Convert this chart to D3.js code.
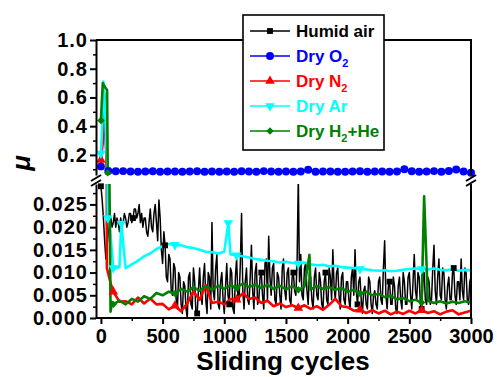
<!DOCTYPE html>
<html>
<head>
<meta charset="utf-8">
<script src="https://cdn.jsdelivr.net/npm/d3@7"></script>
<style>
  body { margin: 0; background: #fff; }
  text { font-family: "Liberation Sans", Arial, sans-serif; font-weight: bold; }
</style>
</head>
<body>
<svg id="chart" width="497" height="377"></svg>
<script>
//////////////////////////////////////////////////////////////////////////////// DATA
// Humid air: one value every 10 cycles, from cycle 0
var humidStep = 10;
var humidMu = [
  0.029, 0.026, 0.022, 0.017, 0.013, 0.016, 0.019, 0.021, 0.022, 0.020, 0.021, 0.023, 0.020, 0.022, 0.021, 0.019, 0.022, 0.020, 0.021, 0.023,
  0.022, 0.020, 0.021, 0.023, 0.023, 0.021, 0.022, 0.024, 0.024, 0.022, 0.023, 0.025, 0.021, 0.023, 0.020, 0.022, 0.022, 0.019, 0.018, 0.021,
  0.024, 0.020, 0.019, 0.023, 0.025, 0.021, 0.017, 0.026, 0.022, 0.015, 0.012, 0.019, 0.016, 0.009, 0.008, 0.014, 0.013, 0.006, 0.005, 0.012,
  0.011, 0.004, 0.002, 0.010, 0.009, 0.003, 0.001, 0.008, 0.007, 0.002, 0.000, 0.009, 0.010, 0.003, 0.002, 0.011, 0.008, 0.001, 0.001, 0.006,
  0.011, 0.005, 0.003, 0.009, 0.012, 0.004, 0.001, 0.010, 0.009, 0.002, 0.021, 0.006, 0.004, 0.011, 0.014, 0.003, 0.002, 0.008, 0.010, 0.004,
  0.001, 0.007, 0.012, 0.005, 0.003, 0.011, 0.010, 0.002, 0.001, 0.009, 0.013, 0.005, 0.004, 0.012, 0.023, 0.006, 0.002, 0.008, 0.011, 0.004,
  0.003, 0.009, 0.016, 0.006, 0.002, 0.010, 0.012, 0.003, 0.004, 0.009, 0.010, 0.005, 0.002, 0.012, 0.013, 0.004, 0.018, 0.009, 0.005, 0.011,
  0.012, 0.004, 0.003, 0.010, 0.009, 0.005, 0.002, 0.011, 0.013, 0.006, 0.004, 0.010, 0.011, 0.004, 0.003, 0.009, 0.010, 0.006, 0.005, 0.012,
  0.031, 0.008, 0.014, 0.005, 0.004, 0.011, 0.012, 0.006, 0.003, 0.010, 0.009, 0.004, 0.002, 0.009, 0.011, 0.005, 0.004, 0.010, 0.008, 0.003,
  0.002, 0.008, 0.010, 0.004, 0.003, 0.011, 0.009, 0.004, 0.015, 0.007, 0.004, 0.010, 0.011, 0.005, 0.002, 0.009, 0.010, 0.004, 0.003, 0.008,
  0.008, 0.004, 0.002, 0.009, 0.011, 0.005, 0.015, 0.006, 0.003, 0.008, 0.009, 0.004, 0.001, 0.006, 0.007, 0.003, 0.002, 0.009, 0.008, 0.003,
  0.001, 0.005, 0.006, 0.003, 0.002, 0.008, 0.009, 0.004, 0.003, 0.011, 0.017, 0.005, 0.002, 0.007, 0.008, 0.003, 0.003, 0.009, 0.007, 0.002,
  0.001, 0.007, 0.009, 0.004, 0.002, 0.010, 0.008, 0.003, 0.003, 0.009, 0.010, 0.005, 0.002, 0.008, 0.014, 0.006, 0.004, 0.010, 0.009, 0.003,
  0.002, 0.008, 0.010, 0.004, 0.003, 0.009, 0.008, 0.003, 0.004, 0.011, 0.016, 0.006, 0.003, 0.009, 0.013, 0.005, 0.004, 0.011, 0.010, 0.004,
  0.002, 0.007, 0.009, 0.004, 0.004, 0.010, 0.011, 0.005, 0.003, 0.008, 0.008, 0.004, 0.013, 0.006, 0.004, 0.011, 0.010, 0.004, 0.003, 0.008,
  0.009
];

// Dry O2: start-up points, then one value every 60 cycles from cycle 60
var o2Head = [[0, 0.12], [12, 0.30], [25, 0.55], [40, 0.25], [50, 0.10]];
var o2Step = 60;
var o2Mu = [
  0.088, 0.086, 0.087, 0.084, 0.083, 0.085, 0.086, 0.083, 0.084, 0.085,
  0.082, 0.084, 0.086, 0.083, 0.084, 0.082, 0.085, 0.083, 0.086, 0.084,
  0.083, 0.087, 0.084, 0.083, 0.085, 0.082, 0.084, 0.096, 0.083, 0.084,
  0.085, 0.083, 0.082, 0.084, 0.086, 0.083, 0.084, 0.085, 0.083, 0.084,
  0.100, 0.086, 0.082, 0.085, 0.087, 0.083, 0.088, 0.098, 0.084, 0.076
];

// Dry N2, Dry Ar, Dry H2+He: start-up points, then one value every 50 cycles from cycle 100
var tailStart = 100;
var tailStep = 50;

var n2Head = [[0, 0.165], [14, 0.28], [26, 0.63], [38, 0.40], [48, 0.011], [62, 0.0095], [80, 0.0075]];
var n2Mu = [
  0.0058, 0.0036, 0.0037, 0.0030, 0.0045, 0.0032, 0.0043, 0.0030, 0.0031, 0.0019,
  0.0027, 0.0015, 0.0032, 0.0058, 0.0040, 0.0072, 0.0033, 0.0036, 0.0030, 0.0042,
  0.0040, 0.0055, 0.0042, 0.0045, 0.0033, 0.0038, 0.0026, 0.0032, 0.0024, 0.0028,
  0.0022, 0.0028, 0.0020, 0.0026, 0.0018, 0.0029, 0.0042, 0.0026, 0.0024, 0.0016,
  0.0018, 0.0011, 0.0017, 0.0010, 0.0016, 0.0008, 0.0014, 0.0009, 0.0016, 0.0010,
  0.0017, 0.0011, 0.0015, 0.0008, 0.0014, 0.0017, 0.0008, 0.0012, 0.0016
];

var arHead = [[0, 0.21], [10, 0.40], [20, 0.71], [32, 0.55], [45, 0.25], [55, 0.022], [70, 0.021], [85, 0.016]];
var arSpikes = [[165, 0.0208], [1033, 0.0209]];
var arMu = [
  0.0110, 0.0112, 0.0110, 0.0118, 0.0126, 0.0136, 0.0142, 0.0152, 0.0158, 0.0163,
  0.0161, 0.0160, 0.0156, 0.0154, 0.0150, 0.0146, 0.0145, 0.0142, 0.0146, 0.0140,
  0.0138, 0.0136, 0.0133, 0.0130, 0.0128, 0.0126, 0.0125, 0.0122, 0.0124, 0.0121,
  0.0120, 0.0122, 0.0118, 0.0116, 0.0117, 0.0114, 0.0115, 0.0112, 0.0111, 0.0110,
  0.0108, 0.0107, 0.0105, 0.0104, 0.0105, 0.0103, 0.0104, 0.0106, 0.0108, 0.0109,
  0.0108, 0.0107, 0.0109, 0.0106, 0.0105, 0.0107, 0.0104, 0.0106, 0.0105
];

var h2HeHead = [[0, 0.44], [15, 0.70], [35, 0.67], [50, 0.65], [55, 0.075], [78, 0.0014], [90, 0.0035]];
var h2HeSpikes = [[1690, 0.0139], [2620, 0.0268]];
var h2HeMu = [
  0.0030, 0.0038, 0.0030, 0.0042, 0.0036, 0.0048, 0.0042, 0.0055, 0.0050, 0.0058,
  0.0054, 0.0064, 0.0058, 0.0068, 0.0060, 0.0070, 0.0062, 0.0071, 0.0064, 0.0072,
  0.0066, 0.0076, 0.0068, 0.0074, 0.0066, 0.0073, 0.0064, 0.0071, 0.0063, 0.0070,
  0.0062, 0.0069, 0.0063, 0.0070, 0.0064, 0.0068, 0.0062, 0.0066, 0.0058, 0.0062,
  0.0054, 0.0058, 0.0050, 0.0053, 0.0046, 0.0049, 0.0041, 0.0044, 0.0037, 0.0040,
  0.0034, 0.0038, 0.0033, 0.0037, 0.0032, 0.0036, 0.0033, 0.0037, 0.0034
];

// axis ticks
var xTicks = [0, 500, 1000, 1500, 2000, 2500, 3000];
var xMinorTicks = [250, 750, 1250, 1750, 2250, 2750];
var topTicks = [0.2, 0.4, 0.6, 0.8, 1.0];
var topMinorTicks = [0.1, 0.3, 0.5, 0.7, 0.9];
var botTicks = [0, 0.005, 0.010, 0.015, 0.020, 0.025];
var botMinorTicks = [0.0025, 0.0075, 0.0125, 0.0175, 0.0225, 0.0275];

//////////////////////////////////////////////////////////////////////////////// SERIES
var toPoints = function (head, start, step, values, extra) {
  var pts = head.concat(values.map(function (v, i) { return [start + i * step, v]; }));
  if (extra) pts = pts.concat(extra);
  pts.sort(function (a, b) { return a[0] - b[0]; });
  return pts;
};

var humid = toPoints([], 0, humidStep, humidMu);
var o2 = toPoints(o2Head, o2Step, o2Step, o2Mu);
var n2 = toPoints(n2Head, tailStart, tailStep, n2Mu);
var ar = toPoints(arHead, tailStart, tailStep, arMu, arSpikes);
var h2He = toPoints(h2HeHead, tailStart, tailStep, h2HeMu, h2HeSpikes);

// markers: first point plus every n-th point of the regular part
var every = function (head, start, step, values, n) {
  var m = head.length ? [head[0]] : [];
  values.forEach(function (v, i) { if (i % n === 0) m.push([start + i * step, v]); });
  return m;
};

var series = [
  { label: [["Humid air"]], color: "#000000", shape: "square", width: 1.5, pts: humid,
    marks: every([], 0, humidStep, humidMu, 26) },
  { label: [["Dry O"], ["2", 1]], color: "#0000ff", shape: "circle", width: 2, pts: o2,
    marks: o2Head.slice(0, 1).concat(o2Mu.map(function (v, i) { return [o2Step + i * o2Step, v]; })) },
  { label: [["Dry N"], ["2", 1]], color: "#ff0000", shape: "triangle", width: 2.6, pts: n2,
    marks: every(n2Head, tailStart, tailStep, n2Mu, 10) },
  { label: [["Dry Ar"]], color: "#00ffff", shape: "triangleDown", width: 2.6, pts: ar,
    marks: every(arHead, tailStart, tailStep, arMu, 10).concat([[55, 0.022], [165, 0.0208], [1033, 0.0209]]) },
  { label: [["Dry H"], ["2", 1], ["+He", -1]], color: "#008000", shape: "diamond", width: 2.6, pts: h2He,
    marks: every(h2HeHead, tailStart, tailStep, h2HeMu, 10).concat([[55, 0.075]]) }
];

//////////////////////////////////////////////////////////////////////////////// SCALES
var left = 96, right = 471;
var x = d3.scaleLinear().domain([-40, 3000]).range([left, right]);
var yTop = d3.scaleLinear().domain([0.06, 1.0]).range([175, 40]);
var yBot = d3.scaleLinear().domain([0, 0.0295]).range([318, 184]);

var svg = d3.select("#chart");
var defs = svg.append("defs");

var shapeType = { square: d3.symbolSquare, circle: d3.symbolCircle, triangle: d3.symbolTriangle,
                  triangleDown: d3.symbolTriangle, diamond: d3.symbolSquare };
var shapeSize = { square: 34, circle: 50, triangle: 40, triangleDown: 40, diamond: 28 };
var shapeRot = { square: 0, circle: 0, triangle: 0, triangleDown: 180, diamond: 45 };

var drawMarker = function (g, s, px, py) {
  g.append("path")
    .attr("d", d3.symbol().type(shapeType[s.shape]).size(shapeSize[s.shape])())
    .attr("transform", "translate(" + px + "," + py + ") rotate(" + shapeRot[s.shape] + ")")
    .attr("fill", s.color);
};

//////////////////////////////////////////////////////////////////////////////// PANELS
var panels = [
  { id: "clipTop", y: yTop },
  { id: "clipBot", y: yBot }
];

panels.forEach(function (p) {
  var r = p.y.range();
  defs.append("clipPath").attr("id", p.id)
    .append("rect")
    .attr("x", left).attr("y", r[1])
    .attr("width", right - left).attr("height", r[0] - r[1]);

  var g = svg.append("g").attr("clip-path", "url(#" + p.id + ")");
  var dom = p.y.domain();

  series.forEach(function (s) {
    var line = d3.line()
      .x(function (d) { return x(d[0]); })
      .y(function (d) { return p.y(d[1]); });
    g.append("path")
      .datum(s.pts)
      .attr("d", line)
      .attr("fill", "none")
      .attr("stroke", s.color)
      .attr("stroke-width", s.width)
      .attr("stroke-linejoin", "round");
  });

  var mg = svg.append("g");
  series.forEach(function (s) {
    s.marks.forEach(function (d) {
      if (d[1] >= dom[0] && d[1] <= dom[1]) drawMarker(mg, s, x(d[0]), p.y(d[1]));
    });
  });
});

//////////////////////////////////////////////////////////////////////////////// AXES
var styleAxis = function (g, fontSize) {
  g.attr("font-family", null).attr("font-size", null);
  g.select(".domain").attr("stroke-width", 2);
  g.selectAll(".tick line").attr("stroke-width", 2);
  g.selectAll("text").style("font-size", fontSize + "px").attr("fill", "#000");
};

var addYAxis = function (scale, major, minor, fmt) {
  var a = svg.append("g").attr("transform", "translate(" + left + ",0)")
    .call(d3.axisLeft(scale).tickValues(major).tickSize(6).tickSizeOuter(0).tickFormat(d3.format(fmt)));
  styleAxis(a, 20);
  a.selectAll("text").attr("x", -8).style("letter-spacing", "1px");
  var m = svg.append("g").attr("transform", "translate(" + left + ",0)")
    .call(d3.axisLeft(scale).tickValues(minor).tickSize(3).tickFormat(""));
  m.select(".domain").remove();
  m.selectAll(".tick line").attr("stroke-width", 1.5);
};

addYAxis(yTop, topTicks, topMinorTicks, ".1f");
addYAxis(yBot, botTicks, botMinorTicks, ".3f");

var xa = svg.append("g").attr("transform", "translate(0,318)")
  .call(d3.axisBottom(x).tickValues(xTicks).tickSize(6).tickSizeOuter(0).tickFormat(d3.format("d")));
xa.select(".domain").attr("d", "M" + left + ",0H" + right);
styleAxis(xa, 20);
xa.selectAll("text").attr("dy", "0.8em");

var xm = svg.append("g").attr("transform", "translate(0,318)")
  .call(d3.axisBottom(x).tickValues(xMinorTicks).tickSize(3).tickFormat(""));
xm.select(".domain").remove();
xm.selectAll(".tick line").attr("stroke-width", 1.5);

// frame: top line and right side, broken like the left axis
var frame = svg.append("g").attr("stroke", "#000").attr("stroke-width", 2).attr("fill", "none");
frame.append("path").attr("d", "M" + left + "," + yTop(1.0) + "H" + right + "V" + yTop.range()[0]);
frame.append("path").attr("d", "M" + right + "," + yBot.range()[1] + "V" + yBot.range()[0]);

// break marks
[left, right].forEach(function (bx) {
  [178, 183].forEach(function (by) {
    frame.append("line")
      .attr("x1", bx - 5).attr("y1", by + 3)
      .attr("x2", bx + 5).attr("y2", by - 3);
  });
});

// axis titles
svg.append("text")
  .attr("x", 283).attr("y", 370)
  .attr("text-anchor", "middle")
  .style("font-size", "26px")
  .text("Sliding cycles");

svg.append("text")
  .attr("transform", "translate(30,163) rotate(-90)")
  .attr("text-anchor", "middle")
  .style("font-size", "26px")
  .style("font-style", "italic")
  .text("\u03bc");

//////////////////////////////////////////////////////////////////////////////// LEGEND
var legend = svg.append("g");
legend.append("rect")
  .attr("x", 243).attr("y", 15).attr("width", 141).attr("height", 135)
  .attr("fill", "#fff").attr("stroke", "#000").attr("stroke-width", 1.6);

series.forEach(function (s, i) {
  var ly = 31 + i * 25;
  legend.append("line")
    .attr("x1", 250).attr("x2", 290).attr("y1", ly).attr("y2", ly)
    .attr("stroke", s.color).attr("stroke-width", 1.5);
  drawMarker(legend, s, 270, ly);
  var t = legend.append("text")
    .attr("x", 296).attr("y", ly + 6)
    .attr("fill", s.color)
    .style("font-size", "17px");
  s.label.forEach(function (part) {
    var ts = t.append("tspan").text(part[0]);
    if (part[1] === 1) ts.attr("dy", 5).style("font-size", "11px");
    if (part[1] === -1) ts.attr("dy", -5);
  });
});
</script>
</body>
</html>
